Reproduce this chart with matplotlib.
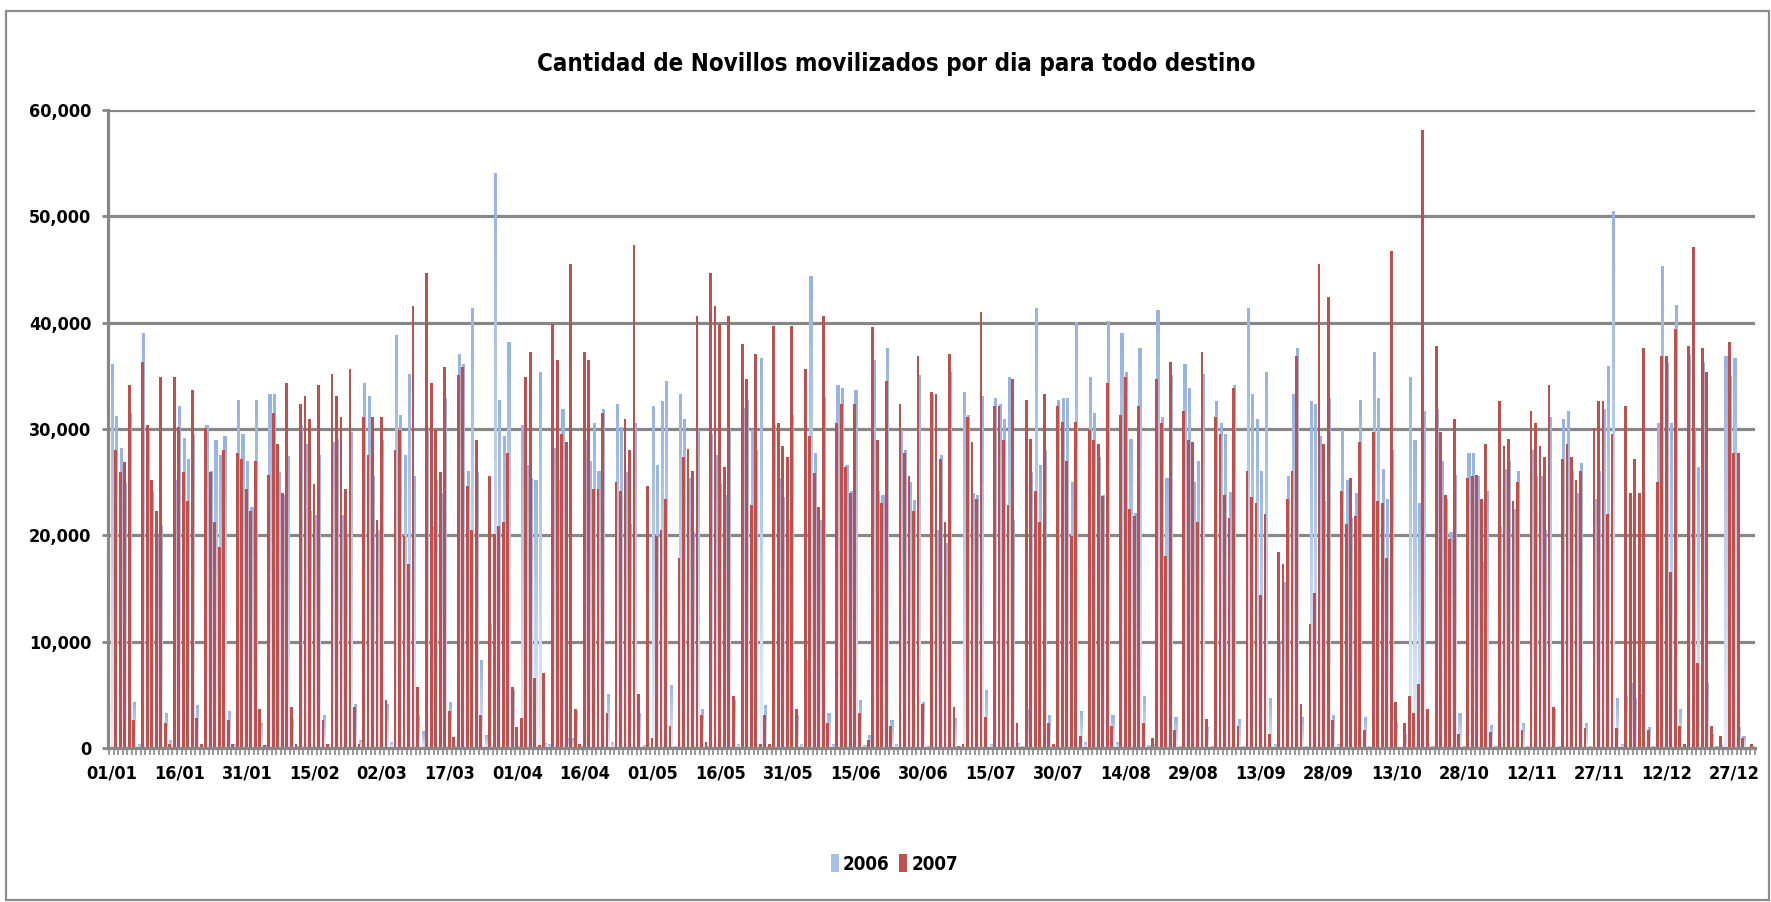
import os
import numpy as np
import matplotlib
matplotlib.use("Agg")
import matplotlib.pyplot as plt
from matplotlib import font_manager
from matplotlib.font_manager import FontProperties
from matplotlib.patches import Rectangle, Patch
from matplotlib.colors import to_rgb
from matplotlib.ticker import FuncFormatter, MultipleLocator

title = "Cantidad de Novillos movilizados por dia para todo destino"
series_names = ["2006", "2007"]
tick_labels = ["01/01", "16/01", "31/01", "15/02", "02/03", "17/03", "01/04", "16/04",
               "01/05", "16/05", "31/05", "15/06", "30/06", "15/07", "30/07", "14/08",
               "29/08", "13/09", "28/09", "13/10", "28/10", "12/11", "27/11", "12/12", "27/12"]

# heads per day, in thousands, one row per week (Mon..Sun of 2007)
v2006 = [
    36.1, 31.2, 28.2, 25.0, 31.5, 4.3, 0.4,
    39.0, 29.7, 24.2, 19.8, 21.0, 3.3, 0.8,
    25.2, 32.2, 29.2, 27.2, 29.5, 4.0, 0.1,
    30.4, 26.1, 29.0, 27.6, 29.3, 3.5, 0.4,
    32.7, 29.5, 27.0, 22.7, 32.7, 2.4, 0.3,
    33.3, 33.3, 26.0, 23.8, 27.5, 2.7, 0.2,
    30.4, 28.6, 22.3, 21.9, 27.6, 3.1, 0.4,
    28.8, 29.1, 21.9, 20.0, 29.7, 4.1, 0.8,
    34.3, 33.1, 25.6, 20.5, 29.0, 4.1, 0.6,
    38.8, 31.3, 27.6, 35.2, 25.6, 3.1, 1.6,
    30.0, 20.9, 25.2, 24.0, 32.9, 4.3, 0.2,
    37.1, 36.1, 26.1, 41.4, 26.0, 8.3, 1.2,
    11.7, 54.1, 32.7, 29.3, 38.2, 5.5, 0.2,
    30.4, 26.6, 25.4, 25.2, 35.4, 0.5, 0.4,
    28.2, 25.2, 31.9, 0.9, 0.9, 3.5, 0.2,
    29.0, 27.0, 30.6, 26.1, 31.9, 5.1, 0.6,
    32.4, 30.2, 26.0, 21.1, 30.6, 3.3, 0.3,
    0.5, 32.2, 26.6, 32.6, 34.5, 5.9, 0.2,
    33.3, 30.9, 25.4, 20.3, 29.9, 3.7, 0.2,
    29.5, 27.6, 24.8, 23.8, 30.0, 4.5, 0.4,
    32.0, 32.7, 29.9, 28.0, 36.7, 4.0, 0.2,
    30.4, 25.4, 23.6, 21.4, 31.3, 3.1, 0.4,
    8.3, 44.4, 27.7, 21.4, 33.0, 3.3, 0.4,
    34.1, 33.9, 26.6, 24.2, 33.7, 4.5, 0.3,
    1.2, 36.5, 24.2, 23.8, 37.6, 2.6, 0.4,
    29.9, 28.0, 25.0, 23.3, 35.1, 4.3, 0.2,
    33.3, 20.5, 27.6, 19.3, 35.4, 2.8, 0.2,
    33.5, 31.3, 24.0, 23.8, 33.1, 5.5, 0.4,
    32.9, 32.4, 30.9, 34.9, 21.4, 0.5, 0.2,
    3.7, 26.0, 41.4, 26.6, 28.0, 3.1, 0.2,
    32.7, 32.9, 32.9, 25.0, 40.1, 3.5, 0.6,
    34.9, 31.5, 27.4, 23.8, 40.2, 3.1, 0.6,
    39.0, 35.4, 29.1, 22.1, 37.6, 4.9, 0.3,
    0.4, 41.2, 31.1, 25.4, 35.1, 2.9, 0.2,
    36.1, 33.9, 25.0, 27.0, 35.2, 2.0, 0.2,
    32.6, 30.6, 29.5, 24.1, 34.1, 2.7, 0.2,
    41.4, 33.3, 30.9, 26.1, 35.4, 4.7, 0.4,
    10.1, 15.6, 25.6, 33.3, 37.6, 2.9, 0.2,
    32.6, 32.4, 29.3, 23.2, 32.9, 3.1, 0.4,
    29.9, 25.2, 21.6, 24.0, 32.7, 2.9, 0.2,
    37.2, 32.9, 26.2, 23.4, 28.0, 2.4, 0.1,
    1.3, 34.9, 29.0, 23.0, 31.7, 0.5, 0.2,
    31.9, 27.0, 23.4, 20.3, 25.7, 3.3, 0.2,
    27.7, 27.7, 25.6, 17.5, 24.2, 2.2, 0.2,
    20.9, 26.2, 27.0, 22.5, 26.1, 2.4, 0.2,
    28.0, 25.6, 25.6, 20.5, 31.1, 3.7, 0.2,
    30.9, 31.7, 26.1, 24.0, 26.8, 2.4, 0.2,
    23.4, 26.1, 31.9, 35.9, 50.5, 4.7, 0.4,
    4.9, 6.1, 4.7, 5.1, 0.6, 2.0, 0.2,
    30.6, 45.3, 36.3, 30.6, 41.7, 3.7, 0.2,
    37.1, 30.0, 26.4, 36.3, 6.1, 1.3, 0.2,
    0.3, 36.9, 35.0, 36.7, 2.0, 1.1, 0.1,
    0.2,
]

v2007 = [
    0.0, 28.0, 26.0, 26.9, 34.1, 2.6, 0.0,
    36.3, 30.4, 25.2, 22.3, 34.9, 2.4, 0.4,
    34.9, 30.2, 26.0, 23.2, 33.7, 2.8, 0.4,
    30.1, 26.0, 21.3, 18.9, 28.0, 2.6, 0.4,
    27.7, 27.2, 24.4, 22.3, 27.0, 3.7, 0.3,
    25.7, 31.5, 28.6, 24.0, 34.3, 3.9, 0.4,
    32.4, 33.1, 30.9, 24.8, 34.1, 2.6, 0.4,
    35.2, 33.1, 31.1, 24.4, 35.6, 3.9, 0.4,
    31.1, 27.6, 31.1, 21.4, 31.1, 4.5, 0.1,
    28.0, 29.9, 19.9, 17.3, 41.6, 5.7, 0.1,
    44.7, 34.3, 29.9, 26.0, 35.8, 3.5, 1.0,
    35.1, 35.8, 24.6, 20.5, 29.0, 3.1, 0.1,
    25.6, 20.1, 20.9, 21.3, 27.7, 5.7, 2.0,
    2.8, 34.9, 37.2, 6.6, 0.3, 7.1, 0.0,
    39.9, 36.5, 29.5, 28.8, 45.5, 3.7, 0.4,
    37.2, 36.5, 24.4, 24.4, 31.5, 3.3, 0.0,
    25.0, 24.2, 30.9, 28.0, 47.3, 5.1, 0.1,
    24.6, 0.9, 19.9, 20.5, 23.4, 2.1, 0.0,
    17.9, 27.4, 28.1, 26.1, 40.6, 3.1, 0.6,
    44.7, 41.6, 39.9, 26.4, 40.6, 4.9, 0.0,
    38.0, 34.7, 22.9, 37.1, 0.4, 3.1, 0.4,
    39.7, 30.6, 28.4, 27.4, 39.7, 3.7, 0.1,
    35.6, 29.3, 25.9, 22.7, 40.6, 2.4, 0.1,
    30.6, 32.4, 26.4, 24.0, 32.4, 3.3, 0.0,
    0.8, 39.6, 29.0, 23.0, 34.5, 2.1, 0.0,
    32.4, 27.7, 25.6, 22.3, 36.9, 4.1, 0.1,
    33.5, 33.3, 27.2, 21.3, 37.1, 3.9, 0.2,
    0.4, 31.1, 28.8, 23.4, 41.0, 2.9, 0.0,
    32.2, 32.2, 29.0, 22.9, 34.7, 2.4, 0.0,
    32.7, 29.1, 24.2, 21.3, 33.3, 2.4, 0.4,
    32.2, 30.7, 27.0, 19.9, 30.7, 1.1, 0.0,
    29.9, 29.0, 28.6, 23.7, 34.3, 2.1, 0.0,
    31.3, 34.9, 22.5, 21.8, 32.2, 2.4, 0.0,
    0.9, 34.7, 30.6, 18.1, 36.3, 1.7, 0.0,
    31.7, 29.0, 28.8, 21.3, 37.2, 2.7, 0.1,
    31.1, 29.5, 23.8, 21.6, 33.9, 2.1, 0.0,
    26.1, 23.6, 23.0, 14.4, 22.0, 1.3, 0.0,
    18.4, 17.3, 23.4, 26.1, 36.9, 4.1, 0.1,
    11.7, 14.6, 45.5, 28.6, 42.4, 2.6, 0.0,
    24.2, 21.1, 25.4, 21.8, 28.8, 1.7, 0.0,
    29.7, 23.2, 23.0, 17.9, 46.7, 4.3, 0.1,
    2.4, 4.9, 3.3, 6.0, 58.1, 3.7, 0.0,
    37.8, 29.7, 23.8, 19.7, 30.9, 1.3, 0.0,
    25.4, 25.6, 25.7, 23.4, 28.6, 1.5, 0.1,
    32.6, 28.4, 29.1, 23.2, 25.0, 1.7, 0.0,
    31.7, 30.6, 28.4, 27.4, 34.1, 3.9, 0.0,
    27.2, 28.6, 27.4, 25.2, 26.1, 1.9, 0.0,
    30.1, 32.6, 32.6, 22.0, 29.5, 1.9, 0.0,
    32.2, 24.0, 27.2, 24.0, 37.6, 1.7, 0.0,
    25.0, 36.9, 36.9, 16.6, 39.4, 2.1, 0.4,
    37.8, 47.1, 8.0, 37.6, 35.4, 2.1, 0.0,
    1.1, 0.0, 38.2, 27.7, 27.7, 0.9, 0.0,
    0.4,
]

# look for a narrow bold face (the original uses a squeezed Arial-like font)
font_files = [f.fname for f in font_manager.fontManager.ttflist]
narrow_file = None
for key in ["liberationsansnarrow-bold.", "dejavusanscondensed-bold.",
            "robotocondensed-bold.", "opensans_condensed-bold", "opensanscondensed-bold"]:
    for fn in font_files:
        if os.path.basename(fn).lower().startswith(key):
            narrow_file = fn
            break
    if narrow_file:
        break

if narrow_file:
    base_fp = FontProperties(fname=narrow_file)
    ytick_size, xtick_size, title_size, leg_size = 13, 13, 17.3, 13.5
else:
    base_fp = FontProperties(family="Liberation Sans", weight="bold")
    ytick_size, xtick_size, title_size, leg_size = 14, 13, 17, 13


def fp(size):
    p = base_fp.copy()
    p.set_size(size)
    return p


b06 = np.array(v2006) * 1000
b07 = np.array(v2007) * 1000
days = np.arange(len(b06))

fig = plt.figure(figsize=(17.71, 9.02), dpi=100)
ax = fig.add_axes([0.061, 0.1707, 0.930, 0.7073])

grid_c = "#878787"
red = "#c0504d"
top_c = np.array(to_rgb("#95b3e3"))
bot_c = np.array(to_rgb("#e6edf8"))

# 2006 bars: vertical gradient, drawn as stacked slices
n_slices = 20
for k in range(n_slices):
    f = (k + 0.5) / n_slices
    ax.bar(days + 0.14, b06 / n_slices, bottom=b06 * k / n_slices, width=0.70,
           color=bot_c + (top_c - bot_c) * f, linewidth=0, antialiased=False, zorder=2)

# 2007 bars on top
ax.bar(days - 0.12, b07, width=0.62, color=red, linewidth=0, zorder=3)

ax.set_ylim(0, 60000)
ax.set_xlim(-0.8, 364.6)
ax.yaxis.set_major_locator(MultipleLocator(10000))
ax.yaxis.set_major_formatter(FuncFormatter(lambda v, p: f"{v:,.0f}"))
ax.yaxis.grid(True, color=grid_c, linewidth=2.3)
ax.set_axisbelow(True)

for s in ["top", "right"]:
    ax.spines[s].set_visible(False)
for s in ["left", "bottom"]:
    ax.spines[s].set_color(grid_c)
    ax.spines[s].set_linewidth(2.3)
    ax.spines[s].set_zorder(4)

ax.set_xticks(np.arange(0, 361, 15))
ax.set_xticklabels(tick_labels)
ax.set_xticks(np.arange(-0.5, 365, 1), minor=True)
ax.tick_params(axis="x", which="major", length=0, pad=12)
ax.tick_params(axis="x", which="minor", length=5, width=1.2, color=grid_c)
ax.tick_params(axis="y", length=4, width=2, color=grid_c, pad=8)
for lab in ax.get_xticklabels():
    lab.set_fontproperties(fp(xtick_size))
for lab in ax.get_yticklabels():
    lab.set_fontproperties(fp(ytick_size))

fig.text(0.506, 0.929, title, ha="center", va="center", fontproperties=fp(title_size))

handles = [Patch(facecolor="#a9c1e8", edgecolor="none"),
           Patch(facecolor=red, edgecolor="none")]
fig.legend(handles, series_names, loc="center", bbox_to_anchor=(0.505, 0.042), ncol=2,
           frameon=False, prop=fp(leg_size),
           handlelength=0.45, handleheight=1.1, handletextpad=0.2, columnspacing=0.5)

fig.patches.append(Rectangle((0.0034, 0.002), 0.9955, 0.986, transform=fig.transFigure,
                             fill=False, edgecolor="#8c8c8c", linewidth=1.6))

fig.savefig("out.png", dpi=100)
